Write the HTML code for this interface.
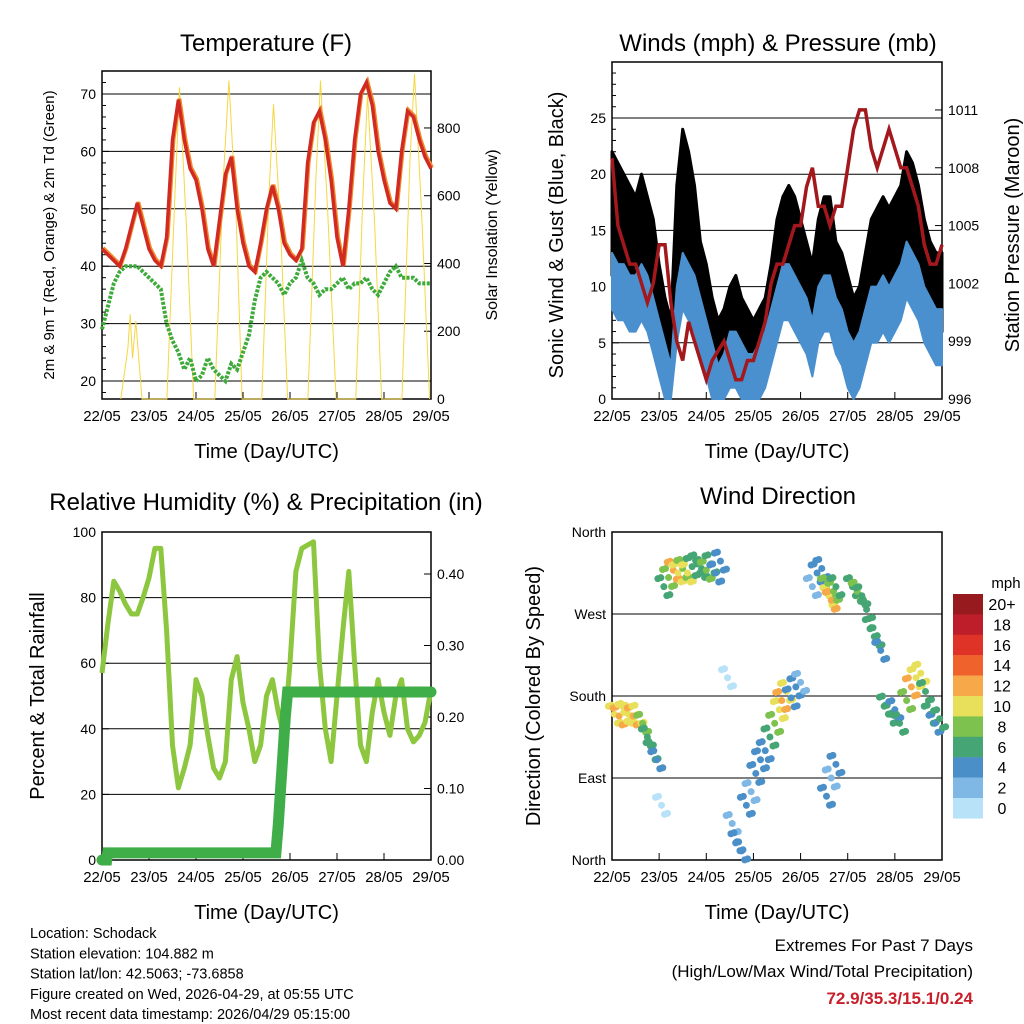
<!DOCTYPE html>
<html><head><meta charset="utf-8"><style>
body{margin:0;background:#fff;}
svg{font-family:"Liberation Sans",sans-serif;display:block}
</style></head><body>
<svg id="s" width="1024" height="1024" viewBox="0 0 1024 1024"></svg>
<script>
// ---- DATA (3-hourly from 22/05 00 UTC) ----
const dayLabels=["22/05","23/05","24/05","25/05","26/05","27/05","28/05","29/05"];
const tempRed=[43,42,41,40,43,47,51,47, 43,41,40,45,62,69,62,57, 55,50,43,40,48,56,59,50, 44,40,39,44,50,54,50,44, 42,41,43,58,65,67,62,55, 45,40,50,62,70,72,68,60, 55,51,50,60,67,66,62,59, 57];
const dewGreen=[29,33,37,39,40,40,40,39, 38,37,36,30,27,25,22,24, 20,21,24,22,21,20,23,22, 25,28,34,38,39,38,37,35, 37,38,41,38,37,35,36,36, 37,38,36,37,37,38,36,35, 37,39,40,38,38,38,37,37, 37];
const solarT=[22.40,22.55,22.60,22.65,22.72,22.85, 23.38,23.55,23.65,23.80,23.95, 24.40,24.58,24.70,24.85,24.98, 25.40,25.55,25.65,25.80,25.95, 26.38,26.55,26.65,26.80,26.98, 27.40,27.55,27.65,27.80,27.95, 28.38,28.55,28.65,28.80,28.97];
const solarV=[0,150,250,120,230,0, 0,600,920,500,0, 0,650,940,550,0, 0,600,870,500,0, 0,650,940,560,0, 0,600,900,520,0, 0,700,960,550,0];
const gust=[18,17,16,15,14,16,14,12, 8,5,3,15,20,18,15,10, 8,5,3,4,6,7,5,4, 3,4,5,8,12,14,15,14, 12,10,8,12,14,14,10,9, 7,5,6,9,12,13,14,13, 14,15,18,17,15,12,10,9, 9];
const wind=[11,10,10,9,9,10,9,7, 5,3,1,8,11,10,9,7, 5,3,1,2,4,4,3,2, 2,3,4,6,8,10,10,9, 8,7,5,8,9,9,7,6, 4,3,4,6,8,8,9,8, 9,10,12,11,10,8,7,6, 6];
const pressure=[1008.5,1005,1004,1003,1003,1002,1001,1002, 1004,1004,1001,999,998,1000,999,998, 997,998,998.5,999,998,997,997,998, 998,999,1000,1002,1003,1003,1004,1005, 1005,1007,1008,1006,1006,1005,1006,1006, 1008,1010,1011,1011,1009,1008,1009,1010, 1009,1008,1008,1007,1006,1004,1003,1003, 1004];
const rh=[57,72,85,82,78,75,75,80, 86,95,95,70,35,22,28,35, 55,50,38,28,25,30,55,62, 48,40,30,35,50,55,45,38, 60,88,95,96,97,60,40,30, 50,70,88,60,35,30,45,55, 45,38,50,55,40,36,38,42, 52];
const rainT=[22.00,22.10,22.12,25.70,25.75,25.80,25.85,25.90,25.95,29.00];
const rainV=[0,0,0.01,0.01,0.05,0.10,0.15,0.20,0.235,0.235];
const wdT=[22.05,22.15,22.25,22.35,22.45,22.55,22.65,22.75,22.85,22.95,23.05,23.10,23.20,23.30,23.40,23.50,23.60,23.70,23.80,23.90,24.00,24.10,24.20,24.30,24.45,24.55,24.65,24.75,24.85,24.95,25.05,25.15,25.25,25.35,25.45,25.55,25.60,25.70,25.80,25.90,26.00,26.25,26.35,26.45,26.55,26.60,26.65,26.70,26.75,26.55,26.65,26.75,27.10,27.20,27.30,27.40,27.50,27.60,27.70,27.80,27.90,28.00,28.10,28.25,28.35,28.45,28.55,28.65,28.75,28.85,28.95];
const wdD=[160,158,162,160,158,160,150,135,120,110,60,300,310,318,315,320,315,322,325,320,318,325,315,328,200,40,20,10,60,75,95,110,120,135,150,165,175,185,178,190,195,300,315,320,300,290,285,295,300,70,90,105,300,295,290,275,255,245,230,170,160,165,150,175,190,200,205,185,160,150,155];
const wdS=[11,12,11,10,12,11,9,7,6,5,1,6,8,12,10,9,11,7,6,7,8,6,5,5,1,3,4,5,4,3,4,5,4,6,8,11,12,10,5,4,3,3,4,5,8,10,12,9,7,4,3,5,7,8,7,6,7,6,5,7,6,5,6,9,12,11,10,7,6,5,7];
const cbLabels=["20+","18","16","14","12","10","8","6","4","2","0"];
const cbColors=["#971a1e","#bd1e2a","#de3326","#f0622b","#f7a848","#e8e05a","#7dc24e","#45a574","#4a8fc8","#7fb8e4","#b7e2f7"];

const NS="http://www.w3.org/2000/svg";
const S=document.getElementById('s');
function mk(tag,attrs,parent){const e=document.createElementNS(NS,tag);for(const k in attrs)e.setAttribute(k,attrs[k]);(parent||S).appendChild(e);return e;}
function txt(x,y,s,size,anchor,name,extra){const t=mk('text',Object.assign({x:x,y:y,'font-size':size,'text-anchor':anchor||'middle',fill:'#000'},extra||{}));t.textContent=s;


return t;}
function tIdx(i){return 22+i/8;}
function path(pts){return pts.map((p,i)=>(i?'L':'M')+p[0].toFixed(1)+' '+p[1].toFixed(1)).join(' ');}

function panel(P){
 const g=mk('g',{});
 
 
 P.g=g;
 P.sx=d=>P.x0+(d-22)/7*(P.x1-P.x0);
 return P;
}
function frame(P,leftTicks,leftFn,rightTicks,rightFn,minorL){
 const g=P.g;
 leftTicks.forEach(v=>{const y=leftFn(v);mk('line',{x1:P.x0,x2:P.x1,y1:y,y2:y,stroke:'#000','stroke-width':1},g);});
 mk('rect',{x:P.x0,y:P.y0,width:P.x1-P.x0,height:P.y1-P.y0,fill:'none',stroke:'#000','stroke-width':1.5},g);
 leftTicks.forEach(v=>{const y=leftFn(v);mk('line',{x1:P.x0,x2:P.x0+7,y1:y,y2:y,stroke:'#000'},g);
   txt(P.x0-6,y+5,P.lfmt?P.lfmt(v):String(v),14,'end','y-tick-label');});
 if(minorL) minorL.forEach(v=>{const y=leftFn(v);if(y>P.y0&&y<P.y1)mk('line',{x1:P.x0,x2:P.x0+4,y1:y,y2:y,stroke:'#000'},g);});
 if(rightTicks) rightTicks.forEach(v=>{const y=rightFn(v);mk('line',{x1:P.x1-7,x2:P.x1,y1:y,y2:y,stroke:'#000'},g);
   txt(P.x1+6,y+5,P.rfmt?P.rfmt(v):String(v),14,'start','y2-tick-label');});
 dayLabels.forEach((l,i)=>{const x=P.sx(22+i);mk('line',{x1:x,x2:x,y1:P.y1,y2:P.y1-7,stroke:'#000'},g);
   txt(x,P.y1+22,l,15,'middle','x-tick-label');});
 txt((P.x0+P.x1)/2,P.y1+59,'Time (Day/UTC)',20,'middle','x-axis-title');
}

// ---- Temperature ----
const A=panel({name:'temperature-panel',x0:102,x1:431,y0:71,y1:399});
const tY=v=>381-(v-20)*5.74, sY=v=>399-v*0.3388;
frame(A,[20,30,40,50,60,70],tY,[0,200,400,600,800],sY,[18,22,24,26,28,32,34,36,38,42,44,46,48,52,54,56,58,62,64,66,68,72,74]);
mk('path',{d:path(solarT.map((t,i)=>[A.sx(t),sY(solarV[i])])),fill:'none',stroke:'#f5d742','stroke-width':1},A.g);
mk('path',{d:path(dewGreen.map((v,i)=>[A.sx(tIdx(i)),tY(v)])),fill:'none',stroke:'#3daa3a','stroke-width':4,'stroke-dasharray':'3 1.5'},A.g);
mk('path',{d:path(tempRed.map((v,i)=>[A.sx(tIdx(i))+1,tY(v)-1])),fill:'none',stroke:'#f08a2c','stroke-width':4},A.g);
mk('path',{d:path(tempRed.map((v,i)=>[A.sx(tIdx(i)),tY(v)])),fill:'none',stroke:'#d12a22','stroke-width':3.5},A.g);
txt(266,51,'Temperature (F)',24,'middle','temperature-title');
txt(0,0,'2m & 9m T (Red, Orange) & 2m Td (Green)',15,'middle','temp-y-axis-title',{transform:'translate(54,235) rotate(-90)'});
txt(0,0,'Solar Insolation (Yellow)',16,'middle','solar-y-axis-title',{transform:'translate(497,235) rotate(-90)'});

// ---- Winds ----
const B=panel({name:'winds-panel',x0:612,x1:942,y0:62,y1:399});
const wY=v=>399-v*11.24, pY=v=>399-(v-996)*19.27;
frame(B,[0,5,10,15,20,25],wY,[996,999,1002,1005,1008,1011],pY,[1,2,3,4,6,7,8,9,11,12,13,14,16,17,18,19,21,22,23,24,26,27,28,29]);
// gust cloud: band from wind to gust+4
const gTop=gust.map((v,i)=>[B.sx(tIdx(i)),wY(v+4)]);
const gBot=wind.map((v,i)=>[B.sx(tIdx(i)),wY(v)]).reverse();
mk('path',{d:path(gTop.concat(gBot))+'Z',fill:'#000',stroke:'#000','stroke-width':3,'stroke-linejoin':'round'},B.g);
const bTop=wind.map((v,i)=>[B.sx(tIdx(i)),wY(v+2)]);
const bBot=wind.map((v,i)=>[B.sx(tIdx(i)),wY(Math.max(0,v-3))]).reverse();
mk('path',{d:path(bTop.concat(bBot))+'Z',fill:'#4a90cf',stroke:'#4a90cf','stroke-width':2,'stroke-linejoin':'round'},B.g);
mk('path',{d:path(pressure.map((v,i)=>[B.sx(tIdx(i)),pY(v)])),fill:'none',stroke:'#a3181c','stroke-width':3.5},B.g);
txt(778,51,'Winds (mph) & Pressure (mb)',24,'middle','winds-title');
txt(0,0,'Sonic Wind & Gust (Blue, Black)',20,'middle','wind-y-axis-title',{transform:'translate(563,235) rotate(-90)'});
txt(0,0,'Station Pressure (Maroon)',20,'middle','pressure-y-axis-title',{transform:'translate(1019,235) rotate(-90)'});

// ---- RH ----
const C=panel({name:'humidity-panel',x0:102,x1:431,y0:532,y1:860});
const hY=v=>860-v*3.28, rY=v=>860-v*715;
C.rfmt=v=>v.toFixed(2);
frame(C,[0,20,40,60,80,100],hY,[0,0.1,0.2,0.3,0.4],rY,null);
mk('path',{d:path(rh.map((v,i)=>[C.sx(tIdx(i)),hY(v)])),fill:'none',stroke:'#8dc63f','stroke-width':5,'stroke-linejoin':'round'},C.g);
mk('path',{d:path(rainT.map((t,i)=>[C.sx(t),rY(rainV[i])])),fill:'none',stroke:'#3fae49','stroke-width':11,'stroke-linecap':'round'},C.g);
txt(266,510,'Relative Humidity (%) & Precipitation (in)',24,'middle','humidity-title');
txt(0,0,'Percent & Total Rainfall',20,'middle','rh-y-axis-title',{transform:'translate(44,696) rotate(-90)'});

// ---- Wind direction ----
const D=panel({name:'wind-direction-panel',x0:612,x1:942,y0:532,y1:860});
const dY=v=>860-v/360*328;
D.lfmt=v=>({0:'North',90:'East',180:'South',270:'West',360:'North'})[v];
frame(D,[0,90,180,270,360],dY,null,null,null);
wdT.forEach((t,i)=>{const s=wdS[i];const k=Math.max(0,10-Math.min(10,Math.floor(s/2)));
 for(let j=-2;j<=2;j++){const c=mk('circle',{cx:D.sx(t)+j*3,cy:dY(wdD[i])+j*4+(j%2)*5,r:3.5,fill:cbColors[k]},D.g);
 
 }
});
txt(778,504,'Wind Direction',24,'middle','wind-direction-title');
txt(0,0,'Direction (Colored By Speed)',20,'middle','direction-y-axis-title',{transform:'translate(540,696) rotate(-90)'});
txt(1006,588,'mph',15,'middle','colorbar-unit');
cbColors.forEach((c,i)=>{const r=mk('rect',{x:953,y:594+i*20.4,width:30,height:20.6,fill:c});
 
 
 txt(1002,594+i*20.4+16,cbLabels[i],16,'middle','colorbar-label');});

// ---- footer ----
["Location: Schodack","Station elevation: 104.882 m","Station lat/lon: 42.5063; -73.6858","Figure created on Wed, 2026-04-29, at 05:55 UTC","Most recent data timestamp: 2026/04/29 05:15:00"].forEach((l,i)=>txt(30,938+i*20.3,l,14.5,'start','station-info-line'));
txt(973,951,'Extremes For Past 7 Days',17,'end','extremes-title');
txt(973,977,'(High/Low/Max Wind/Total Precipitation)',17,'end','extremes-subtitle');
txt(973,1004,'72.9/35.3/15.1/0.24',17,'end','extremes-values',{fill:'#c8202a','font-weight':'bold'});
</script>
</body></html>
